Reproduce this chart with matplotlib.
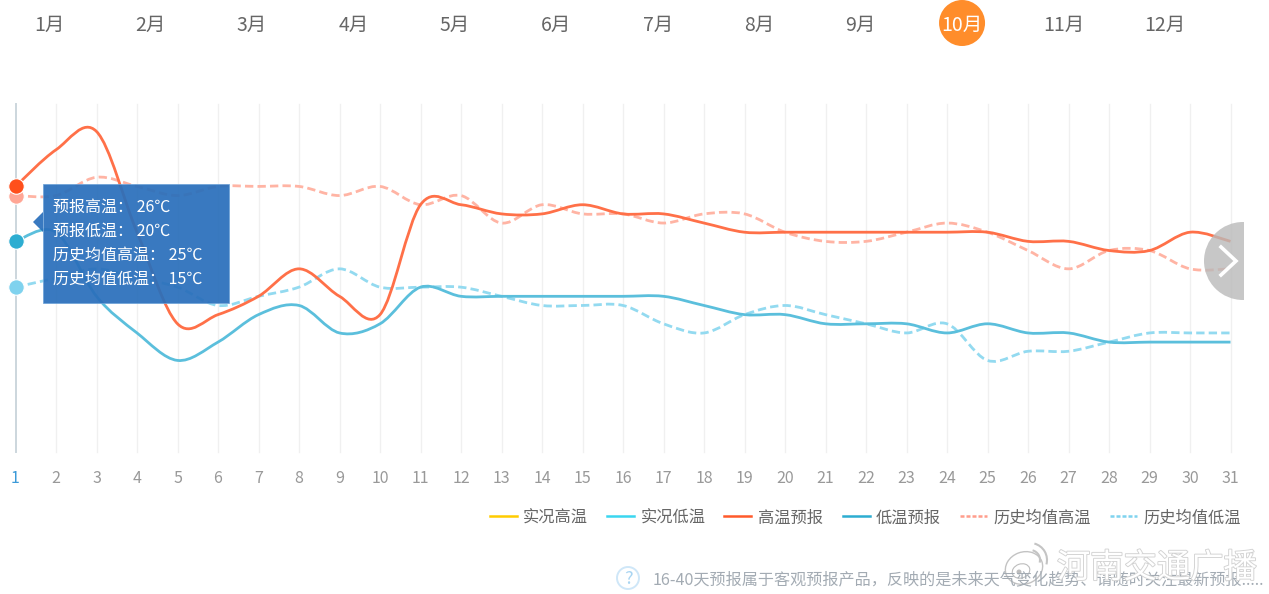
import matplotlib
matplotlib.use('Agg')
import matplotlib.pyplot as plt
import matplotlib.patheffects as pe
import numpy as np
from matplotlib.patches import Arc, Circle, Ellipse, PathPatch, Polygon, Rectangle
from matplotlib.path import Path

plt.rcParams['font.family'] = ['Noto Sans CJK SC', 'DejaVu Sans']

months = ['1月', '2月', '3月', '4月', '5月', '6月', '7月', '8月', '9月', '10月', '11月', '12月']
days = list(range(1, 32))

high_forecast = [26, 30, 32, 21, 11, 12, 14, 17, 14, 12, 24, 24, 23, 23, 24, 23,
                 23, 22, 21, 21, 21, 21, 21, 21, 21, 20, 20, 19, 19, 21, 20]
low_forecast = [20, 21, 14, 10, 7, 9, 12, 13, 10, 11, 15, 14, 14, 14, 14, 14,
                14, 13, 12, 12, 11, 11, 11, 10, 11, 10, 10, 9, 9, 9, 9]
high_history = [25, 25, 27, 26, 25, 26, 26, 26, 25, 26, 24, 25, 22, 24, 23, 23,
                22, 23, 23, 21, 20, 20, 21, 22, 21, 19, 17, 19, 19, 17, 17]
low_history = [15, 16, 17, 16, 15, 13, 14, 15, 17, 15, 15, 15, 14, 13, 13, 13,
               11, 10, 12, 13, 12, 11, 10, 11, 7, 8, 8, 9, 10, 10, 10]

legend_names = ['实况高温', '实况低温', '高温预报', '低温预报', '历史均值高温', '历史均值低温']
legend_colors = ['#ffcc00', '#3ad6f0', '#ff5a2b', '#2dadd1', '#ff9d8c', '#7fd3ef']
tooltip_rows = ['预报高温： 26℃', '预报低温： 20℃', '历史均值高温： 25℃', '历史均值低温： 15℃']
footer = '16-40天预报属于客观预报产品，反映的是未来天气变化趋势、请随时关注最新预报.....'
watermark = '河南交通广播'

DASH = (0, (3, 1.5))


def smooth_path(xs, ys):
    """Bezier path through the daily values, like a smoothed web chart line."""
    pts = np.column_stack([xs, ys]).astype(float)
    verts = [pts[0]]
    codes = [Path.MOVETO]
    for i in range(len(pts) - 1):
        before = pts[max(i - 1, 0)]
        after = pts[min(i + 2, len(pts) - 1)]
        verts += [pts[i] + (pts[i + 1] - before) / 6, pts[i + 1] - (after - pts[i]) / 6, pts[i + 1]]
        codes += [Path.CURVE4] * 3
    return Path(verts, codes)


def draw_line(ax, values, color, style='-'):
    patch = PathPatch(smooth_path(days, values), fill=False, edgecolor=color, lw=2.0,
                      linestyle=style, capstyle='butt', joinstyle='round')
    ax.add_patch(patch)


fig = plt.figure(figsize=(12.69, 5.94), dpi=100, facecolor='white')

# chart area: day 1 to 31 in x, temperature in y
ax = fig.add_axes([15.5 / 1269, (594 - 452) / 594, 1215 / 1269, 348 / 594])
ax.set_xlim(1, 31)
ax.set_ylim(-3, 35)
for spine in ax.spines.values():
    spine.set_visible(False)
ax.set_yticks([])
ax.set_xticks(days)
ax.set_xticklabels(days, fontsize=11.5, color='#999999')
ax.tick_params(axis='x', length=0, pad=13)
ax.get_xticklabels()[0].set_color('#3b9ad8')
ax.grid(axis='x', color='#f0f0f0', lw=1.0)
ax.set_axisbelow(True)
for line in ax.get_xgridlines():
    line.set_clip_on(False)
ax.get_xgridlines()[0].set_color('#ccd6dd')
ax.get_xgridlines()[0].set_linewidth(1.4)

draw_line(ax, high_history, '#ffb4a4', DASH)
draw_line(ax, low_history, '#93daf0', DASH)
draw_line(ax, low_forecast, '#5bbfdc')
draw_line(ax, high_forecast, '#ff7048')

for series, color in [(high_history, '#ffa695'), (low_history, '#7fd2ee'),
                      (low_forecast, '#2dadd1'), (high_forecast, '#ff4f1c')]:
    ax.scatter(days[0], series[0], s=125, color=color, edgecolor='white', linewidth=0.8,
               clip_on=False, zorder=5)

# everything around the chart is placed in screen pixels
over = fig.add_axes([0, 0, 1, 1], facecolor='none')
over.set_xlim(0, 1269)
over.set_ylim(594, 0)
over.axis('off')

for i, name in enumerate(months):
    x = 49 + i * 101.45
    if name == '10月':
        over.add_patch(Circle((x, 23), 23, color='#ff8d2b', lw=0))
    over.text(x, 25, name, fontsize=14, ha='center', va='center',
              color='white' if name == '10月' else '#666666')

# tooltip
tip_color = '#2a6fbb'
over.add_patch(Polygon([(33, 222), (43, 212), (43, 232)], color=tip_color, alpha=0.93, lw=0))
over.add_patch(Rectangle((43, 184), 186, 119, facecolor=tip_color, edgecolor='#6fa3d8',
                         lw=0.6, alpha=0.93))
for i, row in enumerate(tooltip_rows):
    over.text(53, 207.5 + i * 24, row, fontsize=11.5, color='white', va='center')

# next arrow, cut off at the right edge of the chart
arrow = Circle((1243, 261), 39, color='#b9b9b9', alpha=0.8, lw=0)
over.add_patch(arrow)
arrow.set_clip_path(Rectangle((1190, 200), 54, 120, transform=over.transData))
over.plot([1221, 1236, 1221], [247, 261, 275], color='white', lw=2.6, solid_joinstyle='miter')

# legend
swatch_x = [490, 607, 724, 843, 960, 1110]
label_x = [523, 641, 758, 876, 993, 1143]
for i, name in enumerate(legend_names):
    style = (0, (1.6, 0.8)) if i >= 4 else '-'
    over.plot([swatch_x[i], swatch_x[i] + 27], [516, 516], color=legend_colors[i], lw=1.8,
              linestyle=style)
    over.text(label_x[i], 518, name, fontsize=11.7, color='#666666', va='center')

# footer note
over.add_patch(Circle((628, 578), 11, facecolor='white', edgecolor='#cfe7f8', lw=1.4))
over.text(628, 579, '?', fontsize=13, color='#a9d5f2', ha='center', va='center')
over.text(653, 581, footer, fontsize=11.6, color='#a3abb3', va='center')

# weibo watermark
over.add_patch(Ellipse((1024, 568), 38, 32, angle=-20, facecolor='white', edgecolor='#bdbdbd',
                       lw=1.0, alpha=0.9))
over.add_patch(Ellipse((1021, 571), 18, 14, angle=-20, facecolor='white', edgecolor='#bdbdbd', lw=0.8))
over.add_patch(Circle((1019, 572), 2.5, facecolor='#bdbdbd', lw=0))
over.add_patch(Arc((1030, 560), 34, 34, theta1=-75, theta2=15, edgecolor='#c4c4c4', lw=1.5))
over.add_patch(Arc((1030, 560), 20, 20, theta1=-75, theta2=15, edgecolor='#c4c4c4', lw=1.5))
over.text(1157, 568, watermark, fontsize=24, color='white', ha='center', va='center',
          path_effects=[pe.withStroke(linewidth=1.3, foreground='#d2d2d2')])

fig.savefig('out.png', dpi=100)
